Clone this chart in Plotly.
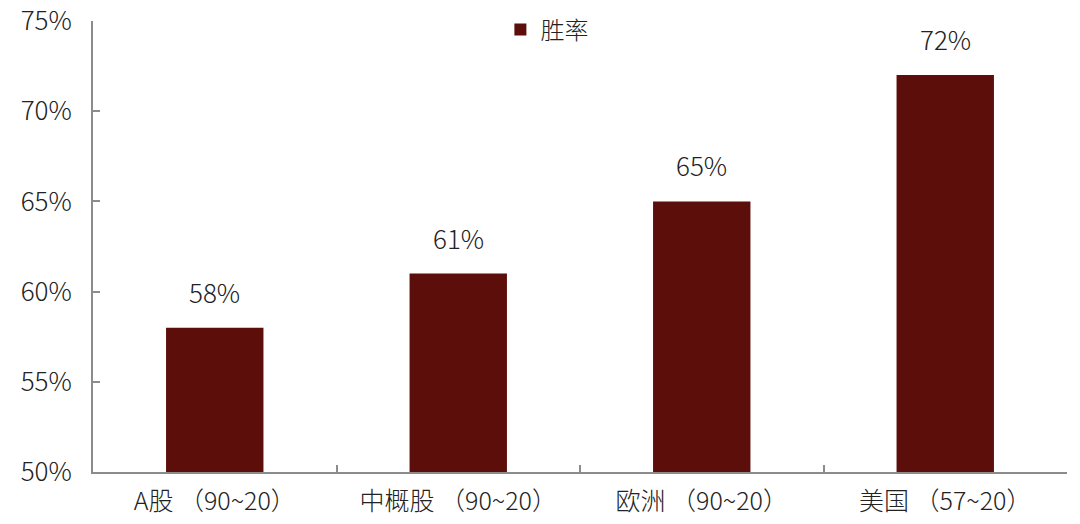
import plotly.graph_objects as go

categories = ["A股 （90~20）", "中概股 （90~20）", "欧洲 （90~20）", "美国 （57~20）"]
win_rate = [0.58, 0.61, 0.65, 0.72]
labels = ["58%", "61%", "65%", "72%"]
series_name = "胜率"
y_ticks = [0.50, 0.55, 0.60, 0.65, 0.70, 0.75]
y_tick_text = ["50%", "55%", "60%", "65%", "70%", "75%"]

font_family = "Noto Sans CJK SC, Noto Sans, sans-serif"
bar_color = "#5C0F0A"
axis_color = "#8C8C8C"

fig = go.Figure()
fig.add_trace(go.Bar(
    x=categories, y=win_rate, name=series_name,
    marker=dict(color=bar_color, line=dict(width=0)),
    width=0.4,
))

for c, v, t in zip(categories, win_rate, labels):
    fig.add_annotation(x=c, y=v, text=t, showarrow=False, yanchor="bottom",
                       yshift=16, font=dict(family=font_family, size=26, color="#222", weight=300))

fig.update_layout(
    width=1080, height=524,
    margin=dict(l=93, r=13, t=21, b=52, autoexpand=False),
    plot_bgcolor="white", paper_bgcolor="white",
    font=dict(family=font_family, size=26, color="#222", weight=300),
    showlegend=True,
    legend=dict(orientation="h", x=0.466, xanchor="center", y=1.03, yanchor="top",
                font=dict(size=24, weight=300), itemwidth=30, bgcolor="rgba(0,0,0,0)"),
)
fig.update_xaxes(
    showline=True, linecolor=axis_color, linewidth=2, automargin=False,
    ticks="inside", tickson="boundaries", ticklen=7, tickcolor=axis_color, tickwidth=2,
    tickfont=dict(size=25, color="#222", weight=300), showgrid=False, ticklabelstandoff=6,
)
fig.update_yaxes(
    range=[0.5, 0.75], tickvals=y_ticks, ticktext=y_tick_text, automargin=False,
    showline=True, linecolor=axis_color, linewidth=2,
    ticks="inside", ticklen=7, tickcolor=axis_color, tickwidth=2,
    tickfont=dict(size=26, color="#222", weight=300), showgrid=False, zeroline=False,
    ticklabelstandoff=14,
)

fig.write_html("out.html", config={"displayModeBar": False},
               post_script="document.body.style.margin='0px';")
